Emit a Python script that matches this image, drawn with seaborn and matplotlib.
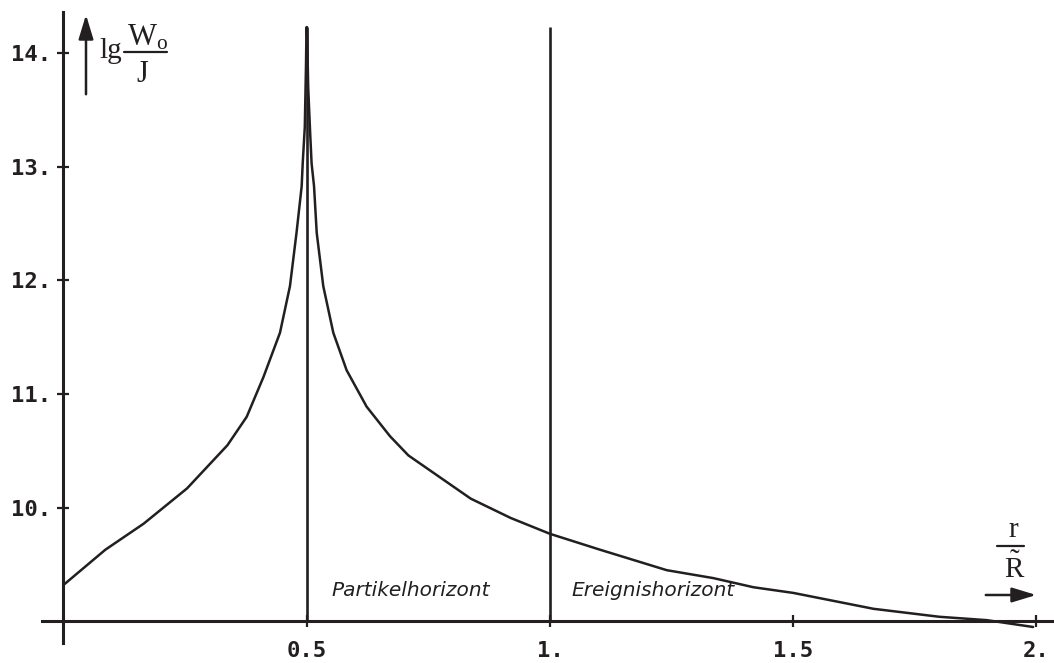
import matplotlib
matplotlib.use("Agg")
import matplotlib.pyplot as plt
import seaborn as sns
import pandas as pd
from matplotlib.lines import Line2D
from matplotlib.patches import FancyArrowPatch

# ---------------- data ----------------
r_vals = [0, 0.086, 0.165, 0.254, 0.337, 0.3766, 0.411, 0.445, 0.4655, 0.479,
          0.4896, 0.4917, 0.496, 0.4985, 0.4995,
          0.5005, 0.503, 0.507, 0.510, 0.515, 0.5205, 0.534, 0.5546, 0.582,
          0.623, 0.671, 0.709, 0.837, 0.919, 1.0, 1.103, 1.24, 1.336,
          1.418, 1.5, 1.665, 1.80, 1.898, 1.993]
lgW_vals = [9.32, 9.63, 9.86, 10.17, 10.55, 10.80, 11.15, 11.54, 11.95, 12.42,
            12.83, 13.03, 13.35, 13.90, 14.23,
            14.23, 13.70, 13.30, 13.03, 12.83, 12.42, 11.95, 11.54, 11.21,
            10.89, 10.63, 10.46, 10.08, 9.91, 9.77, 9.63, 9.45, 9.38,
            9.30, 9.25, 9.11, 9.04, 9.01, 8.95]

horizon_r = [0.5, 1.0]
horizon_top = 14.23
horizon_names = ["Partikelhorizont", "Ereignishorizont"]

x_ticks = [0.5, 1.0, 1.5, 2.0]
x_ticklabels = ["0.5", "1.", "1.5", "2."]
y_ticks = [10, 11, 12, 13, 14]
y_ticklabels = ["10.", "11.", "12.", "13.", "14."]

INK = "#231f20"

# ---------------- figure ----------------
sns.set_theme(style="white")
plt.rcParams["mathtext.fontset"] = "custom"
plt.rcParams["mathtext.rm"] = "Liberation Serif"
plt.rcParams["mathtext.it"] = "Liberation Serif:italic"

W, H = 1054, 663
fig = plt.figure(figsize=(W / 100, H / 100), dpi=100)
ax = fig.add_axes([0, 0, 1, 1])
ax.set_facecolor("white")

df = pd.DataFrame({"r": r_vals, "lgW": lgW_vals})
sns.lineplot(data=df, x="r", y="lgW", ax=ax, color=INK, linewidth=1.8,
             sort=False, estimator=None)

ax.vlines(horizon_r, 9.0, horizon_top, color=INK, linewidth=1.9)

ax.set_xlim(-0.1305, 2.036)
ax.set_ylim(8.633, 14.469)

for s in ["top", "right"]:
    ax.spines[s].set_visible(False)
ax.spines["left"].set_position(("data", 0))
ax.spines["bottom"].set_position(("data", 9.0))
ax.spines["left"].set_bounds(8.81, 14.36)
ax.spines["bottom"].set_bounds(-0.045, 2.036)
for s in ["left", "bottom"]:
    ax.spines[s].set_color(INK)
    ax.spines[s].set_linewidth(2.2)

ax.set_xticks(x_ticks)
ax.set_xticklabels(x_ticklabels)
ax.set_yticks(y_ticks)
ax.set_yticklabels(y_ticklabels)
ax.tick_params(axis="both", direction="inout", length=8, width=1.6,
               color=INK, labelcolor=INK)
ax.tick_params(axis="x", pad=10, bottom=True)
ax.tick_params(axis="y", pad=5, left=True)
for lab in ax.get_xticklabels() + ax.get_yticklabels():
    lab.set_fontfamily("DejaVu Sans Mono")
    lab.set_fontweight("bold")
    lab.set_fontsize(16)
ax.set_xlabel("")
ax.set_ylabel("")
ax.grid(False)

# horizon names
text_x = [0.551, 1.045]
for tx, name in zip(text_x, horizon_names):
    ax.text(tx, 9.27, name, fontsize=14.5, style="italic", color=INK,
            family="DejaVu Sans", va="center", ha="left")

# ---------------- axis titles (pixel placed) ----------------
def fx(px):
    return px / W

def fy(py):
    return 1 - py / H

serif = "Liberation Serif"
fig.text(fx(99), fy(58), "lg", fontsize=21, family=serif, color=INK,
         ha="left", va="baseline")
fig.add_artist(Line2D([fx(124), fx(167)], [fy(52), fy(52)], color=INK,
                      linewidth=1.6))
fig.text(fx(127), fy(45), r"W$_{\mathrm{o}}$", fontsize=22, family=serif,
         color=INK, ha="left", va="baseline")
fig.text(fx(142), fy(82), "J", fontsize=22, family=serif, color=INK,
         ha="center", va="baseline")
fig.add_artist(FancyArrowPatch(
    (fx(86), fy(97)), (fx(86), fy(12)), transform=fig.transFigure,
    arrowstyle="-|>,head_length=1.05,head_width=0.32", mutation_scale=14,
    color=INK, linewidth=1.8))

fig.text(fx(1013), fy(537), "r", fontsize=21, family=serif, color=INK,
         ha="center", va="baseline")
fig.add_artist(Line2D([fx(997), fx(1024)], [fy(546), fy(546)], color=INK,
                      linewidth=1.6))
fig.text(fx(1014), fy(577), "\u02dc\nR", fontsize=21, family=serif,
         color=INK, ha="center", va="baseline", multialignment="center",
         linespacing=0.12)
fig.add_artist(FancyArrowPatch(
    (fx(983), fy(595)), (fx(1039), fy(595)), transform=fig.transFigure,
    arrowstyle="-|>,head_length=1.05,head_width=0.32", mutation_scale=14,
    color=INK, linewidth=1.8))

fig.savefig("out.png", dpi=100, facecolor="white")
